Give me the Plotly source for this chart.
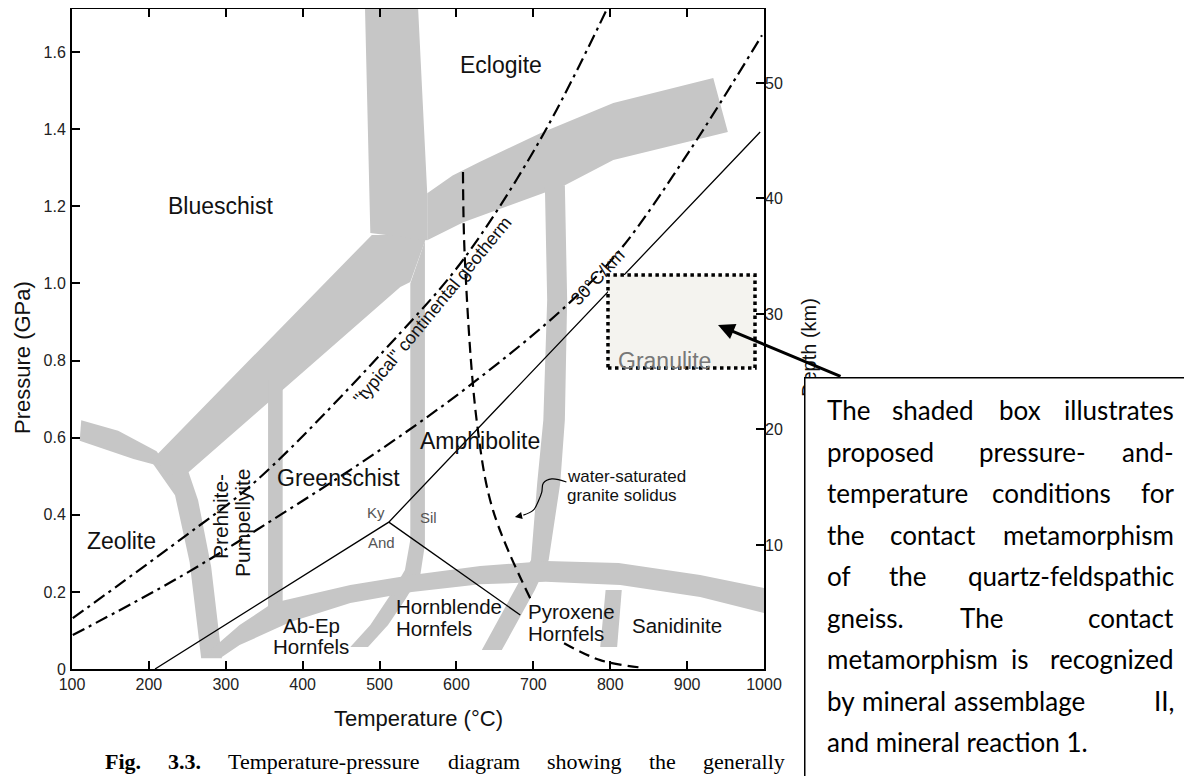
import plotly.graph_objects as go

# ---------------- axes ----------------
T_RANGE = [100, 1000]
P_RANGE = [0, 1.712]
DEPTH_RANGE = [-0.74, 56.4]
T_TICKS = [100, 200, 300, 400, 500, 600, 700, 800, 900, 1000]
P_TICKS = [0, 0.2, 0.4, 0.6, 0.8, 1.0, 1.2, 1.4, 1.6]
P_TICK_TEXT = ["0", "0.2", "0.4", "0.6", "0.8", "1.0", "1.2", "1.4", "1.6"]
DEPTH_TICKS = [10, 20, 30, 40, 50]

# ---------------- gray facies boundary bands (T in C, P in GPa) ----------------
zeolite_T = [112, 160, 210, 226, 180, 140, 110]
zeolite_P = [0.645, 0.618, 0.565, 0.52, 0.545, 0.573, 0.592]

prehnite_left_T = [201, 234, 253, 268, 295, 281, 264, 250]
prehnite_left_P = [0.545, 0.451, 0.277, 0.028, 0.028, 0.265, 0.438, 0.52]

diagonal_T = [205, 458, 490, 562, 540, 527, 240]
diagonal_P = [0.545, 1.061, 1.126, 1.126, 1.004, 0.991, 0.49]

vertical_top_T = [481, 485, 488, 562, 562, 556, 550]
vertical_top_P = [1.72, 1.424, 1.131, 1.112, 1.234, 1.476, 1.72]

eclogite_arc_T = [562, 595, 630, 709, 804, 934, 953, 804, 741, 609, 562]
eclogite_arc_P = [1.234, 1.280, 1.315, 1.390, 1.468, 1.533, 1.393, 1.320, 1.255, 1.159, 1.112]

greenschist_amph_T = [540, 540, 533, 514, 488, 462, 485, 511, 533, 553, 559, 559]
greenschist_amph_P = [1.0, 0.335, 0.257, 0.192, 0.114, 0.057, 0.057, 0.114, 0.179, 0.244, 0.322, 1.11]

prehnite_green_T = [355, 374, 374, 355]
prehnite_green_P = [0.75, 0.75, 0.14, 0.14]

amph_gran_T = [715, 718, 713, 705, 697, 676, 654, 633, 659, 680, 702, 720, 735, 741, 744, 741]
amph_gran_P = [1.255, 0.957, 0.646, 0.482, 0.283, 0.205, 0.127, 0.049, 0.049, 0.127, 0.205, 0.283,
               0.482, 0.646, 0.957, 1.255]

hornfels_arc_T = [273, 318, 361, 462, 542, 631, 717, 811, 917, 1000,
                  1000, 917, 813, 716, 631, 542, 462, 384, 318, 295]
hornfels_arc_P = [0.036, 0.114, 0.171, 0.218, 0.244, 0.267, 0.280, 0.275, 0.244, 0.21,
                  0.145, 0.187, 0.218, 0.226, 0.220, 0.200, 0.171, 0.122, 0.062, 0.031]

sanidinite_T = [794, 815, 809, 787]
sanidinite_P = [0.205, 0.205, 0.057, 0.057]

BANDS = [
    (zeolite_T, zeolite_P), (prehnite_left_T, prehnite_left_P), (diagonal_T, diagonal_P),
    (vertical_top_T, vertical_top_P), (eclogite_arc_T, eclogite_arc_P),
    (greenschist_amph_T, greenschist_amph_P), (prehnite_green_T, prehnite_green_P),
    (amph_gran_T, amph_gran_P), (hornfels_arc_T, hornfels_arc_P), (sanidinite_T, sanidinite_P),
]

# ---------------- lines ----------------
ky_sil_T = [208, 512, 995]
ky_sil_P = [0.0, 0.381, 1.393]
and_sil_T = [512, 683]
and_sil_P = [0.381, 0.14]

geotherm_typ_T = [101, 240.5, 340.6, 526.6, 608.5, 708.7, 795.8]
geotherm_typ_P = [0.132, 0.335, 0.49, 0.871, 1.061, 1.372, 1.712]

geotherm_30_T = [101, 240.5, 370.5, 500.6, 621.5, 743.8, 812.7, 903.8, 997.4]
geotherm_30_P = [0.088, 0.239, 0.399, 0.568, 0.742, 0.944, 1.087, 1.346, 1.644]

solidus_a_T = [608.5, 611, 626.7, 647.5, 697]
solidus_a_P = [1.289, 1.061, 0.638, 0.412, 0.179]
solidus_b_T = [740, 787, 839]
solidus_b_P = [0.067, 0.023, 0.004]

pointer_T = [743, 724, 713, 711, 707, 700, 687]
pointer_P = [0.485, 0.493, 0.482, 0.459, 0.438, 0.412, 0.399]
pointer_tip = (676, 0.394)

granulite_box_T = [797.1, 988.3]
granulite_box_P = [0.781, 1.022]
arrow_tip = (940.2, 0.892)

# ---------------- labels ----------------
big_labels = [("Eclogite", 658, 1.566), ("Blueschist", 292.5, 1.201), ("Greenschist", 446, 0.495),
              ("Amphibolite", 630.6, 0.591), ("Zeolite", 165, 0.332)]
mid_labels = [("Sanidinite", 887, 0.112), ("Ab-Ep", 412, 0.114), ("Hornfels", 411, 0.058)]
left_labels = [("Hornblende", 518.8, 0.161), ("Hornfels", 518.8, 0.104),
               ("Pyroxene", 690.5, 0.150), ("Hornfels", 690.5, 0.093)]
rot_labels = [("Prehnite-", 292.5, 0.394), ("Pumpellyite", 321, 0.381)]
al_labels = [("Ky", 495, 0.407), ("Sil", 563, 0.392), ("And", 502, 0.327)]
small_labels = [("water-saturated", 741.2, 0.50), ("granite solidus", 741.2, 0.451)]

box_lines = [
    ["The", "shaded", "box", "illustrates"],
    ["proposed", "pressure-", "and-"],
    ["temperature", "conditions", "for"],
    ["the", "contact", "metamorphism"],
    ["of", "the", "quartz-feldspathic"],
    ["gneiss.", "The", "contact"],
    ["metamorphism", "is", "recognized"],
    ["by", "mineral", "assemblage", "II,"],
]
box_last_line = "and mineral reaction 1."
caption_words = ["<b>Fig.</b>", "<b>3.3.</b>", "Temperature-pressure", "diagram", "showing", "the", "generally"]

# layout positions (reference pixels) for the text blocks
box_word_px = [
    [825, 890, 997],
    [825, 977],
    [825, 990],
    [825, 888],
    [825, 887],
    [825, 958],
    [825, 1009],
    [825, 860, 952],
]
box_line_py = [410, 451.5, 493, 534.5, 576, 617.5, 659, 700.5]
box_last_py = 742
caption_px = [103, 166, 226, 446, 545, 647, 701]

GRAY = "#c6c6c6"
SANS = "Liberation Sans, Arial, sans-serif"

# page body has an 8px margin: plot box placed so that it lands at x 72..764, y 9..669 on screen
W, H = 1192, 776
OFF = 8
L, TOP = 72 - OFF, 9 - OFF
PW, PH = 692, 660
R, B = W - L - PW, H - TOP - PH


def px2paper(px, py):
    return (px - 72) / PW, (669 - py) / PH


fig = go.Figure()

for bt, bp in BANDS:
    fig.add_trace(go.Scatter(x=bt, y=bp, fill="toself", fillcolor=GRAY, mode="lines",
                             line=dict(width=0, color=GRAY), hoverinfo="skip", showlegend=False))

fig.add_trace(go.Scatter(x=ky_sil_T, y=ky_sil_P, mode="lines", line=dict(color="black", width=1.3),
                         hoverinfo="skip", showlegend=False))
fig.add_trace(go.Scatter(x=and_sil_T, y=and_sil_P, mode="lines", line=dict(color="black", width=1.3),
                         hoverinfo="skip", showlegend=False))

DD = "13px,5px,3px,5px"
fig.add_trace(go.Scatter(x=geotherm_typ_T, y=geotherm_typ_P, mode="lines", line_shape="spline",
                         line=dict(color="black", width=2.2, dash=DD), hoverinfo="skip", showlegend=False))
fig.add_trace(go.Scatter(x=geotherm_30_T, y=geotherm_30_P, mode="lines", line_shape="spline",
                         line=dict(color="black", width=2.2, dash=DD), hoverinfo="skip", showlegend=False))
fig.add_trace(go.Scatter(x=solidus_a_T, y=solidus_a_P, mode="lines", line_shape="spline",
                         line=dict(color="black", width=2.2, dash="11px,6px"), hoverinfo="skip", showlegend=False))
fig.add_trace(go.Scatter(x=solidus_b_T, y=solidus_b_P, mode="lines", line_shape="spline",
                         line=dict(color="black", width=2.2, dash="11px,6px"), hoverinfo="skip", showlegend=False))
fig.add_trace(go.Scatter(x=pointer_T, y=pointer_P, mode="lines", line_shape="spline",
                         line=dict(color="black", width=1.2), hoverinfo="skip", showlegend=False))
fig.add_trace(go.Scatter(x=[None], y=[None], yaxis="y2", showlegend=False, hoverinfo="skip"))

# granulite shaded box
fig.add_shape(type="rect", xref="x", yref="y", x0=granulite_box_T[0], x1=granulite_box_T[1],
              y0=granulite_box_P[0], y1=granulite_box_P[1], fillcolor="#f4f3ef",
              line=dict(color="black", width=3.5, dash="dot"), layer="above")

ann = []
for t, x, y in big_labels:
    ann.append(dict(x=x, y=y, text=t, showarrow=False, font=dict(size=23, color="#111", family=SANS)))
for t, x, y in mid_labels:
    ann.append(dict(x=x, y=y, text=t, showarrow=False, font=dict(size=20.5, color="#111", family=SANS)))
for t, x, y in left_labels:
    ann.append(dict(x=x, y=y, text=t, showarrow=False, xanchor="left",
                    font=dict(size=20.5, color="#111", family=SANS)))
for t, x, y in rot_labels:
    ann.append(dict(x=x, y=y, text=t, showarrow=False, textangle=-90,
                    font=dict(size=21, color="#111", family=SANS)))
for t, x, y in al_labels:
    ann.append(dict(x=x, y=y, text=t, showarrow=False, font=dict(size=15, color="#555", family=SANS)))
for t, x, y in small_labels:
    ann.append(dict(x=x, y=y, text=t, showarrow=False, xanchor="left",
                    font=dict(size=17, color="#111", family=SANS)))
ann.append(dict(x=871, y=0.799, text="Granulite", showarrow=False,
                font=dict(size=23, color="#777", family=SANS)))
ann.append(dict(x=569.5, y=0.931, text="\"typical\" continental geotherm", showarrow=False,
                textangle=-50.5, font=dict(size=18, color="#111", family=SANS)))
ann.append(dict(x=784, y=1.017, text="30°C/km", showarrow=False, textangle=-46.7,
                font=dict(size=18, color="#111", family=SANS)))
# pointer arrowhead
ann.append(dict(x=pointer_tip[0], y=pointer_tip[1], ax=pointer_T[-1], ay=pointer_P[-1],
                axref="x", ayref="y", text="", showarrow=True, arrowhead=2, arrowsize=1.2,
                arrowwidth=1.2, arrowcolor="black"))

# axis titles
ann.append(dict(xref="paper", yref="paper", x=0.5, y=px2paper(0, 718)[1], text="Temperature (°C)",
                xanchor="center", yanchor="middle", showarrow=False,
                font=dict(size=22, color="#111", family=SANS)))
ann.append(dict(xref="paper", yref="paper", x=px2paper(22, 0)[0], y=px2paper(0, 358)[1],
                xanchor="center", yanchor="middle", text="Pressure (GPa)", textangle=-90,
                showarrow=False, font=dict(size=22, color="#111", family=SANS)))
ann.append(dict(xref="paper", yref="paper", x=px2paper(809, 0)[0], y=px2paper(0, 348)[1],
                xanchor="center", yanchor="middle", text="Depth (km)", textangle=-90,
                showarrow=False, font=dict(size=20, color="#111", family=SANS)))

# arrow from the text block to the shaded box
ann.append(dict(x=arrow_tip[0], y=arrow_tip[1], ax=842 - 718, ay=377 - 325, text="", showarrow=True,
                arrowhead=2, arrowsize=1.1, arrowwidth=3, arrowcolor="black"))

# text block frame (white box, only top/left edges inside the canvas)
bx, by = px2paper(804, 377)
ann.append(dict(xref="paper", yref="paper", x=bx, y=by, xanchor="left", yanchor="top", text=" ",
                showarrow=False, width=430, height=440, bgcolor="white", bordercolor="black",
                borderwidth=1.5, borderpad=0))

BOXFONT = dict(size=26, color="black", family="Lato, Carlito, Calibri, sans-serif")
for words, xs, py in zip(box_lines, box_word_px, box_line_py):
    for w, px in zip(words[:-1], xs):
        x, y = px2paper(px, py)
        ann.append(dict(xref="paper", yref="paper", x=x, y=y, xanchor="left", yanchor="middle",
                        text=w, showarrow=False, font=BOXFONT))
    x, y = px2paper(1176, py)
    ann.append(dict(xref="paper", yref="paper", x=x, y=y, xanchor="right", yanchor="middle",
                    text=words[-1], showarrow=False, font=BOXFONT))
x, y = px2paper(825, box_last_py)
ann.append(dict(xref="paper", yref="paper", x=x, y=y, xanchor="left", yanchor="middle",
                text=box_last_line, showarrow=False, font=BOXFONT))

CAPFONT = dict(size=22, color="black", family="Liberation Serif, Times New Roman, serif")
for w, px in zip(caption_words, caption_px):
    x, y = px2paper(px, 761)
    ann.append(dict(xref="paper", yref="paper", x=x, y=y, xanchor="left", yanchor="middle",
                    text=w, showarrow=False, font=CAPFONT))

axis_common = dict(showgrid=False, zeroline=False, ticks="inside", ticklen=8, tickwidth=2,
                   tickcolor="black", linecolor="black", linewidth=2,
                   tickfont=dict(size=16, color="#222", family=SANS))

fig.update_layout(
    width=W, height=H, margin=dict(l=L, r=R, t=TOP, b=B, autoexpand=False),
    paper_bgcolor="white", plot_bgcolor="white", showlegend=False,
    xaxis=dict(range=T_RANGE, tickvals=T_TICKS, showline=True, mirror="ticks", **axis_common),
    yaxis=dict(range=P_RANGE, tickvals=P_TICKS, ticktext=P_TICK_TEXT, showline=True, mirror=True,
               ticklabelstandoff=1, **axis_common),
    yaxis2=dict(range=DEPTH_RANGE, tickvals=DEPTH_TICKS, overlaying="y", side="right", showline=False,
                **{k: v for k, v in axis_common.items() if k not in ("linecolor", "linewidth")}),
    annotations=ann,
)

fig.write_html("out.html")
